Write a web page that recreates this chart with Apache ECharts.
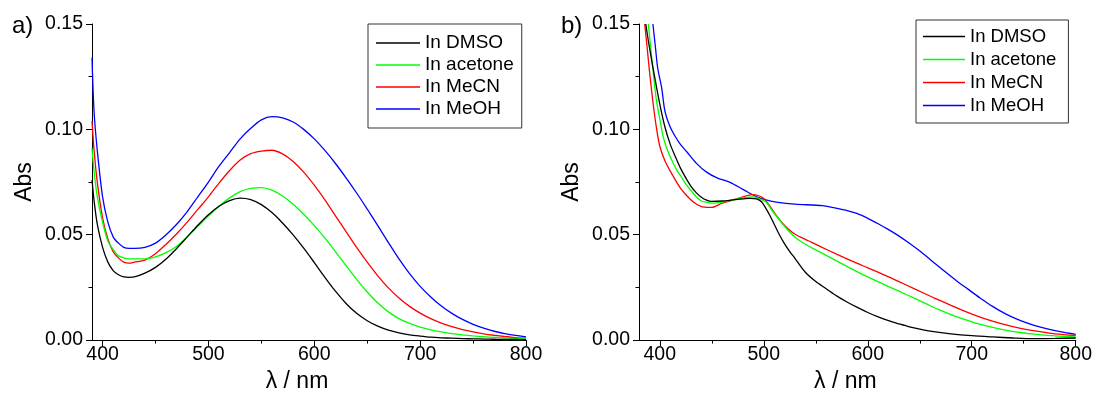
<!DOCTYPE html>
<html><head><meta charset="utf-8">
<script src="https://cdn.jsdelivr.net/npm/echarts@6/dist/echarts.min.js"></script>
<style>html,body{margin:0;padding:0;background:#fff}#c{width:1095px;height:398px}</style>
</head><body><div id="c"></div>
<script>
// ---------- data (a) ----------
const aWl = [390,392,395,400,405,410,415,420,425,430,440,450,460,470,480,490,500,510,520,530,540,550,560,570,580,590,600,610,620,630,640,650,660,670,680,690,700,710,720,730,740,750,760,770,780,790,800];
const aDMSO = [0.076,0.066,0.055,0.044,0.037,0.033,0.031,0.030,0.0298,0.030,0.0318,0.0345,0.0385,0.0435,0.0490,0.0545,0.0595,0.0635,0.0662,0.0674,0.0667,0.0643,0.0605,0.0556,0.0499,0.0436,0.0368,0.0298,0.0232,0.0174,0.0127,0.0092,0.0066,0.0047,0.0034,0.0025,0.0019,0.0014,0.0011,0.0009,0.0007,0.0006,0.0005,0.0004,0.0003,0.0003,0.0002];
const aAcetone = [0.091,0.080,0.068,0.056,0.047,0.043,0.040,0.039,0.0385,0.0385,0.0385,0.0395,0.0415,0.0445,0.0490,0.0540,0.0590,0.0635,0.0675,0.0705,0.0720,0.0724,0.0712,0.0684,0.0645,0.0597,0.0543,0.0484,0.0420,0.0353,0.0288,0.0228,0.0176,0.0134,0.0102,0.0079,0.0062,0.0049,0.0039,0.0031,0.0025,0.0020,0.0016,0.0013,0.0010,0.0008,0.0006];
const aMeCN = [0.104,0.090,0.075,0.058,0.048,0.042,0.039,0.037,0.0365,0.037,0.038,0.041,0.0455,0.0505,0.056,0.062,0.068,0.0745,0.0805,0.0855,0.0885,0.0897,0.0901,0.0884,0.0848,0.0797,0.0735,0.0665,0.0590,0.0515,0.0440,0.0370,0.0305,0.0248,0.0200,0.0160,0.0128,0.0102,0.0081,0.0064,0.0050,0.0039,0.0030,0.0023,0.0017,0.0012,0.0009];
const aMeOH = [0.134,0.108,0.090,0.068,0.056,0.049,0.046,0.044,0.0435,0.0435,0.044,0.046,0.050,0.055,0.061,0.068,0.075,0.0825,0.089,0.0955,0.1005,0.1045,0.1060,0.1055,0.1035,0.1000,0.0955,0.0900,0.0838,0.0770,0.0698,0.0622,0.0543,0.0463,0.0385,0.0315,0.0255,0.0205,0.0162,0.0127,0.0098,0.0075,0.0057,0.0042,0.0031,0.0022,0.0015];

// ---------- data (b) ----------
const bWlDMSO = [386.5,390,395,400,405,410,415,420,425,430,435,440,445,450,460,470,480,487,493,498,502,506,510,515,520,525,530,540,550,560,570,580,590,600,610,620,630,640,650,660,680,700,720,740,760,780,800];
const bDMSO = [0.150,0.139,0.125,0.112,0.101,0.093,0.087,0.0815,0.0770,0.0730,0.0700,0.0678,0.0664,0.0658,0.0660,0.0665,0.0670,0.0673,0.0670,0.0655,0.0625,0.0590,0.0550,0.0500,0.0457,0.0420,0.0388,0.0322,0.0278,0.0244,0.0210,0.0181,0.0155,0.0131,0.0110,0.0092,0.0077,0.0063,0.0052,0.0043,0.0030,0.0021,0.0015,0.0010,0.0007,0.0008,0.0010];
const bWlAcetone = [389,392,395,397,400,403,406,410,416,420,425,430,435,440,445,450,460,470,480,490,495,502,508,515,520,525,531,540,550,560,570,580,590,600,613,620,630,646,660,670,680,690,700,713,730,747,760,780,800];
const bAcetone = [0.150,0.135,0.121,0.113,0.105,0.097,0.092,0.087,0.081,0.078,0.074,0.071,0.068,0.066,0.0655,0.065,0.0655,0.0665,0.0675,0.068,0.0672,0.0655,0.0615,0.0570,0.0540,0.0512,0.0485,0.0455,0.0428,0.0402,0.0376,0.0350,0.0324,0.0300,0.0270,0.0254,0.0232,0.0196,0.0163,0.0141,0.0121,0.0103,0.0087,0.0069,0.0050,0.0036,0.0028,0.0020,0.0015];
const bWlMeCN = [385.5,388,390,393.4,397,400,405,412.6,420,429,437,445,450,460,467,480,489,495,500,506,512,518,524,531,540,546,556,570,590,600,614,629,645,663,680,696,713,730,747,764,780,800];
const bMeCN = [0.150,0.138,0.128,0.113,0.100,0.092,0.085,0.078,0.072,0.067,0.064,0.063,0.063,0.065,0.066,0.068,0.069,0.0685,0.0672,0.0635,0.0592,0.0555,0.0525,0.0500,0.0478,0.0464,0.0440,0.0408,0.0364,0.0343,0.0313,0.0280,0.0243,0.0202,0.0165,0.0132,0.0101,0.0076,0.0056,0.0041,0.0030,0.0022];
const bWlMeOH = [393.4,396,398,401.7,405,409.7,415,420,425.7,435,445,455,467,480,493,502,512,530,556.5,575,590,600,610,620,629,640,649.5,660,673,685,696,708,720,733,747,760,773.7,785,800];
const bMeOH = [0.150,0.138,0.129,0.120,0.1085,0.1015,0.0965,0.0928,0.0895,0.084,0.0797,0.077,0.075,0.0715,0.068,0.0665,0.0655,0.0645,0.0638,0.0620,0.0600,0.0578,0.0552,0.0524,0.0497,0.0460,0.0425,0.0383,0.0330,0.0283,0.0243,0.0200,0.0160,0.0123,0.0092,0.0070,0.0052,0.0040,0.0027];

// ---------- labels ----------
const seriesNames = ['In DMSO','In acetone','In MeCN','In MeOH'];
const seriesColors = ['#000000','#00ff00','#ff0000','#0000ff'];
const xMajorTicks = [400,500,600,700,800];
const xMinorTicks = [450,550,650,750];
const panelLabels = ['a)','b)'];
const xTitle = 'λ / nm';
const yTitle = 'Abs';

const FONT = '"Liberation Sans", Arial, Helvetica, sans-serif';
const pairs = (xs, ys) => xs.map((x, i) => [x, ys[i]]);

function xAxes(gridIndex, min) {
  return [{
    type: 'value', gridIndex, min, max: 800, position: 'bottom',
    axisLine: { show: true, onZero: false, lineStyle: { color: '#000', width: 1 } },
    axisTick: { show: true, inside: false, length: 6, customValues: xMajorTicks, lineStyle: { color: '#000', width: 1 } },
    axisLabel: { customValues: xMajorTicks, color: '#000', fontSize: 19.5, fontFamily: FONT, margin: 5 },
    splitLine: { show: false },
    name: xTitle, nameLocation: 'middle', nameGap: 27,
    nameTextStyle: { color: '#000', fontSize: 23, fontFamily: FONT, padding: [0, 24, 0, 0] }
  }, {
    type: 'value', gridIndex, min, max: 800, position: 'bottom',
    axisLine: { show: false, onZero: false },
    axisTick: { show: true, inside: false, length: 3.5, customValues: xMinorTicks, lineStyle: { color: '#000', width: 1 } },
    axisLabel: { show: false },
    splitLine: { show: false }
  }];
}

function yAxis(gridIndex) {
  return {
    type: 'value', gridIndex, min: 0, max: 0.15, interval: 0.05,
    axisLine: { show: true, onZero: false, lineStyle: { color: '#000', width: 1 } },
    axisTick: { show: true, inside: false, length: 6, lineStyle: { color: '#000', width: 1 } },
    minorTick: { show: true, splitNumber: 2, length: 3.5, lineStyle: { color: '#000', width: 1 } },
    axisLabel: { formatter: v => v.toFixed(2), color: '#000', fontSize: 19.5, fontFamily: FONT, margin: 9 },
    splitLine: { show: false },
    name: yTitle, nameLocation: 'middle', nameGap: 56,
    nameTextStyle: { color: '#000', fontSize: 23, fontFamily: FONT }
  };
}

const aData = [aDMSO, aAcetone, aMeCN, aMeOH];
const bData = [[bWlDMSO, bDMSO], [bWlAcetone, bAcetone], [bWlMeCN, bMeCN], [bWlMeOH, bMeOH]];

const lineCommon = { type: 'line', showSymbol: false, symbol: 'none', smooth: 0.3, clip: true };
const series = [];
aData.forEach((ys, i) => series.push(Object.assign({}, lineCommon, {
  name: seriesNames[i], xAxisIndex: 0, yAxisIndex: 0, data: pairs(aWl, ys),
  color: seriesColors[i], lineStyle: { color: seriesColors[i], width: 1.3 }, z: 10 - i
})));
bData.forEach(([xs, ys], i) => series.push(Object.assign({}, lineCommon, {
  name: seriesNames[i], xAxisIndex: 2, yAxisIndex: 1, data: pairs(xs, ys),
  color: seriesColors[i], lineStyle: { color: seriesColors[i], width: 1.3 }, z: 10 - i
})));

const legendBase = {
  data: seriesNames, orient: 'vertical', icon: 'rect', itemHeight: 1.5, itemGap: 0,
  borderColor: '#333', borderWidth: 1, selectedMode: false,
  textStyle: { color: '#000', fontFamily: FONT }
};

const chart = echarts.init(document.getElementById('c'), null, { renderer: 'canvas' });
chart.setOption({
  animation: false,
  backgroundColor: '#fff',
  title: [
    { text: panelLabels[0], left: 12, top: 14, padding: 0, textStyle: { fontSize: 24, fontWeight: 'normal', color: '#000', fontFamily: FONT } },
    { text: panelLabels[1], left: 561, top: 14, padding: 0, textStyle: { fontSize: 24, fontWeight: 'normal', color: '#000', fontFamily: FONT } }
  ],
  grid: [
    { left: 92, top: 24, width: 434, height: 318 },
    { left: 639, top: 24, width: 438, height: 318 }
  ],
  xAxis: [...xAxes(0, 390), ...xAxes(1, 380)],
  yAxis: [yAxis(0), yAxis(1)],
  legend: [
    Object.assign({}, legendBase, { left: 368, top: 24, itemWidth: 44, padding: [8, 8, 8, 8],
      textStyle: Object.assign({}, legendBase.textStyle, { fontSize: 19, lineHeight: 22 }) }),
    Object.assign({}, legendBase, { left: 916, top: 20, itemWidth: 42, padding: [5, 12, 6, 7],
      textStyle: Object.assign({}, legendBase.textStyle, { fontSize: 18.5, lineHeight: 23 }) })
  ],
  series
});
</script>
</body></html>
